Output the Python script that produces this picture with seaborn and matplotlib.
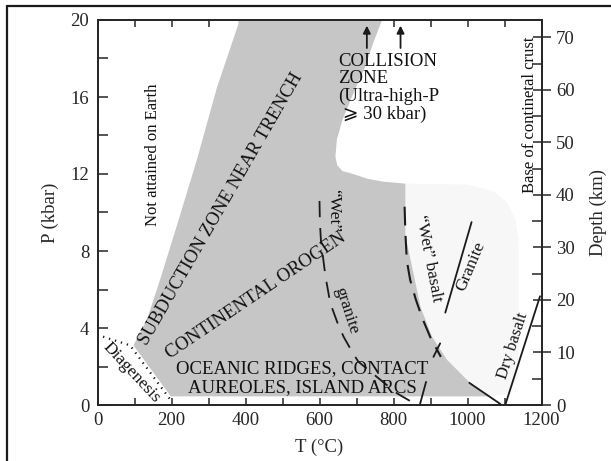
import matplotlib.pyplot as plt
import seaborn as sns
from matplotlib.lines import Line2D
from matplotlib.ticker import MultipleLocator

#-------------------------------------------------
# outlines: T in degC, P in kbar
gray_T = [381, 769, 745, 724, 703, 683, 662, 647, 643, 648, 662, 683, 730, 773, 832,
          832, 850, 873, 904, 945, 999, 1043, 1060, 198, 97, 133, 169, 219, 268, 323, 381]
gray_P = [20, 20, 18.8, 17.6, 16.7, 15.8, 14.8, 13.8, 12.9, 12.45, 12.15, 12.05, 11.75, 11.6, 11.5,
          8.8, 7.2, 5.1, 3.55, 2.34, 1.3, 0.6, 0.45, 0.45, 3.1, 4.4, 6.5, 9.6, 12.7, 16.5, 19.8]

pale_T = [832, 1000, 1070, 1108, 1130, 1138, 1138, 1115, 1060, 832]
pale_P = [11.5, 11.45, 11.1, 10.5, 9.6, 8.5, 1.5, 0.6, 0.45, 0.45]

diag_T = [15, 88, 196]
diag_P = [3.55, 3.1, 0.3]

wet_granite_T = [600, 601, 604, 616, 629, 648, 665, 690, 705, 760, 810, 850]
wet_granite_P = [10.6, 9.5, 8.5, 6.7, 5.3, 4.3, 3.55, 2.7, 2.25, 1.38, 0.6, 0.15]

wet_basalt_T = [830, 832, 836, 845, 860, 878, 900, 928]
wet_basalt_P = [10.3, 9.0, 7.5, 6.5, 5.5, 4.5, 3.5, 2.5]

solid_lines = {
    'granite':    ([1011, 940], [9.5, 4.8]),
    'dry_basalt': ([1102, 1196], [0.0, 5.65]),
    'basalt_end': ([1005, 1089], [1.15, 0.05]),
    'cross':      ([926, 908], [3.2, 2.5]),
    'short':      ([888, 871], [1.2, 0.0]),
}

arrow_T = [728, 819]

# text, T, P, rotation, size
l_label = [
    ('Not attained on Earth', 150, 13.0, 90, 12),
    ('SUBDUCTION ZONE NEAR TRENCH', 334, 10.2, 60, 13.5),
    ('CONTINENTAL OROGEN', 429, 5.7, 34, 13.5),
    ('OCEANIC RIDGES, CONTACT', 552, 1.87, 0, 13.5),
    ('AUREOLES, ISLAND ARCS', 555, 0.88, 0, 13.5),
    ('Diagenesis', 92, 1.7, -47, 12.5),
    ('\u201cWet\u201d', 637, 10.1, -90, 12.5),
    ('granite', 672, 4.9, -72, 12.5),
    ('\u201cWet\u201d basalt', 895, 7.6, -79, 12.5),
    ('Granite', 1008, 7.2, 67, 12.5),
    ('Dry basalt', 1124, 3.1, 72, 12),
    ('Base of continetal crust', 1169, 15.1, 90, 12),
]
collision_txt = 'COLLISION\nZONE\n(Ultra-high-P\n \u2a7e 30 kbar)'

#-------------------------------------------------
sns.set_theme(style='ticks')
plt.rcParams['font.family'] = ['Liberation Serif', 'DejaVu Serif', 'DejaVu Sans']
W, H = 611, 461
fig = plt.figure(figsize=(W/100, H/100), dpi=100)
ax = fig.add_axes([97.5/W, 1-405/H, 444/W, 385/H])

ax.fill(pale_T, pale_P, color='#f7f7f7', lw=0, zorder=1)
ax.fill(gray_T, gray_P, color='#c6c6c6', lw=0, zorder=2)

sns.lineplot(x=diag_T, y=diag_P, sort=False, estimator=None, color='k', lw=1.6, ax=ax, zorder=3)
ax.lines[-1].set_linestyle((0, (0.6, 2.2)))
sns.lineplot(x=wet_granite_T, y=wet_granite_P, sort=False, estimator=None, color='k', lw=1.3, ax=ax, zorder=3)
ax.lines[-1].set_dashes((9, 6))
sns.lineplot(x=wet_basalt_T, y=wet_basalt_P, sort=False, estimator=None, color='k', lw=1.5, ax=ax, zorder=3)
ax.lines[-1].set_dashes((9, 5))
for k, (xs, ys) in solid_lines.items():
    sns.lineplot(x=xs, y=ys, sort=False, estimator=None, color='k', lw=1.3, ax=ax, zorder=3)

for t in arrow_T:
    ax.annotate('', xy=(t, 19.85), xytext=(t, 18.4),
                arrowprops=dict(arrowstyle='-|>', color='k', lw=1.3, mutation_scale=11))

for txt, t, p, rot, fs in l_label:
    ax.text(t, p, txt, rotation=rot, rotation_mode='anchor', ha='center', va='center',
            fontsize=fs, color='#111111', zorder=4)
ax.text(651, 18.3, collision_txt, ha='left', va='top', fontsize=13.5,
        linespacing=1.05, color='#111111', zorder=4)

#adjust
ax.set_xlim(0, 1200)
ax.set_ylim(0, 20)
ax.xaxis.set_major_locator(MultipleLocator(200))
ax.xaxis.set_minor_locator(MultipleLocator(100))
ax.yaxis.set_major_locator(MultipleLocator(4))
ax.yaxis.set_minor_locator(MultipleLocator(2))
ax.tick_params(axis='x', which='both', direction='in', top=True, bottom=True, length=5, width=1.1,
               labelsize=13.5, pad=5)
ax.tick_params(axis='y', which='both', direction='in', left=True, right=False, length=7, width=1.1,
               labelsize=13.5, pad=6)
for s in ax.spines.values():
    s.set_linewidth(1.3)
ax.set_xlabel('T (\u00b0C)', fontsize=13.5)
ax.set_ylabel('P (kbar)', fontsize=13.5)
ax.xaxis.set_label_coords(0.5, -0.088)
ax.yaxis.set_label_coords(-0.087, 0.5)

ax2 = ax.twinx()
ax2.set_ylim(0, 73.3)
ax2.yaxis.set_major_locator(MultipleLocator(10))
ax2.yaxis.set_minor_locator(MultipleLocator(5))
ax2.tick_params(axis='y', which='major', direction='inout', length=13, width=1.1, labelsize=13.5, pad=4)
ax2.tick_params(axis='y', which='minor', direction='in', length=7, width=1.1)
for s in ax2.spines.values():
    s.set_linewidth(1.3)
ax2.set_ylabel('Depth (km)', fontsize=13.5)
ax2.yaxis.set_label_coords(1.108, 0.5)

# scan frame
fig.add_artist(Line2D([7/W, 7/W], [0, 1-6/H], transform=fig.transFigure, color='k', lw=1.6))
fig.add_artist(Line2D([7/W, 1], [1-6/H, 1-6/H], transform=fig.transFigure, color='k', lw=1.6))

plt.savefig('out.png', dpi=100)
plt.close()
